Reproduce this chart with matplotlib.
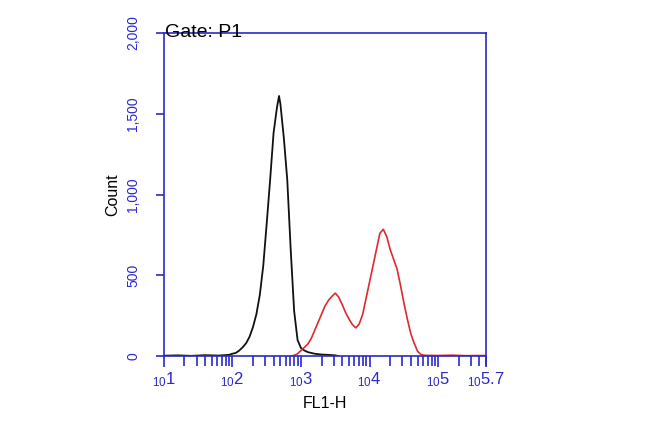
import numpy as np
import matplotlib
matplotlib.use("Agg")
import matplotlib.pyplot as plt
from matplotlib.ticker import FixedLocator, NullFormatter

plt.rcParams['font.family'] = ['Liberation Sans', 'DejaVu Sans']
plt.rcParams['mathtext.fontset'] = 'custom'
plt.rcParams['mathtext.rm'] = 'Liberation Sans'
plt.rcParams['mathtext.it'] = 'Liberation Sans'

# Histogram data (log10 of FL1-H, count)
black_log = [1.0, 1.2, 1.4, 1.6, 1.8, 1.95, 2.00, 2.05, 2.10, 2.15, 2.20, 2.25, 2.30, 2.35, 2.40,
             2.45, 2.50, 2.55, 2.60, 2.65, 2.68, 2.70, 2.75, 2.80, 2.85, 2.90, 2.95, 3.00,
             3.05, 3.10, 3.20, 3.30, 3.40, 3.50, 3.55]
black_cnt = [3, 5, 2, 6, 4, 8, 15, 20, 35, 55, 80, 120, 180, 260, 380,
             560, 820, 1090, 1380, 1540, 1610, 1560, 1350, 1090, 660, 280, 100, 50,
             35, 25, 15, 10, 8, 5, 0]

red_log = [2.85, 2.90, 2.95, 3.00, 3.05, 3.10, 3.15, 3.20, 3.25, 3.30, 3.35, 3.40, 3.45, 3.50,
           3.55, 3.60, 3.65, 3.70, 3.75, 3.80, 3.85, 3.90, 3.95, 4.00, 4.05, 4.10,
           4.15, 4.20, 4.25, 4.30, 4.35, 4.40, 4.45, 4.50, 4.55, 4.60, 4.65, 4.70,
           4.75, 4.80, 5.0, 5.2, 5.4, 5.7]
red_cnt = [0, 5, 15, 35, 55, 75, 110, 160, 210, 260, 310, 345, 370, 390,
           365, 320, 270, 230, 195, 175, 200, 260, 360, 460, 560, 660,
           760, 785, 740, 660, 600, 540, 440, 330, 230, 140, 80, 30,
           10, 5, 4, 6, 3, 4]

x_tick_exp = [1, 2, 3, 4, 5, 5.7]
x_tick_labels = [r'$_{10}$1', r'$_{10}$2', r'$_{10}$3', r'$_{10}$4', r'$_{10}$5', r'$_{10}$5.7']
y_ticks = [0, 500, 1000, 1500, 2000]
y_tick_labels = ['0', '500', '1,000', '1,500', '2,000']

axis_blue = '#2a2ac8'

fig = plt.figure(figsize=(6.5, 4.22), dpi=100)
ax = fig.add_axes([0.252, 0.156, 0.496, 0.766])

ax.plot(10 ** np.array(black_log), black_cnt, color='#111111', lw=1.3)
ax.plot(10 ** np.array(red_log), red_cnt, color='#e0282e', lw=1.2)

ax.set_xscale('log')
ax.set_xlim(10 ** 1, 10 ** 5.7)
ax.set_ylim(0, 2000)

ax.xaxis.set_major_locator(FixedLocator([10 ** e for e in x_tick_exp]))
ax.set_xticklabels(x_tick_labels)
minor = []
for d in range(1, 6):
    for m in range(2, 10):
        v = m * 10 ** d
        if v < 10 ** 5.7:
            minor.append(v)
ax.xaxis.set_minor_locator(FixedLocator(minor))
ax.xaxis.set_minor_formatter(NullFormatter())

ax.set_yticks(y_ticks)
ax.set_yticklabels(y_tick_labels, rotation=90, va='center')

for sp in ax.spines.values():
    sp.set_color(axis_blue)
    sp.set_linewidth(1.2)

ax.tick_params(axis='both', which='both', colors=axis_blue, direction='out')
ax.tick_params(axis='x', which='major', length=8, width=1.2, labelsize=12, pad=2)
ax.tick_params(axis='x', which='minor', length=7, width=1.2)
ax.tick_params(axis='y', which='major', length=6, width=1.2, labelsize=10, pad=11)
for lbl in ax.get_xticklabels() + ax.get_yticklabels():
    lbl.set_color(axis_blue)

ax.set_xlabel('FL1-H', fontsize=11.5, color='black', labelpad=5)
ax.set_ylabel('Count', fontsize=11.5, color='black', labelpad=4)

fig.text(0.254, 0.913, 'Gate: P1', fontsize=14, color='black', ha='left', va='baseline')

fig.savefig('out.png', dpi=100)
